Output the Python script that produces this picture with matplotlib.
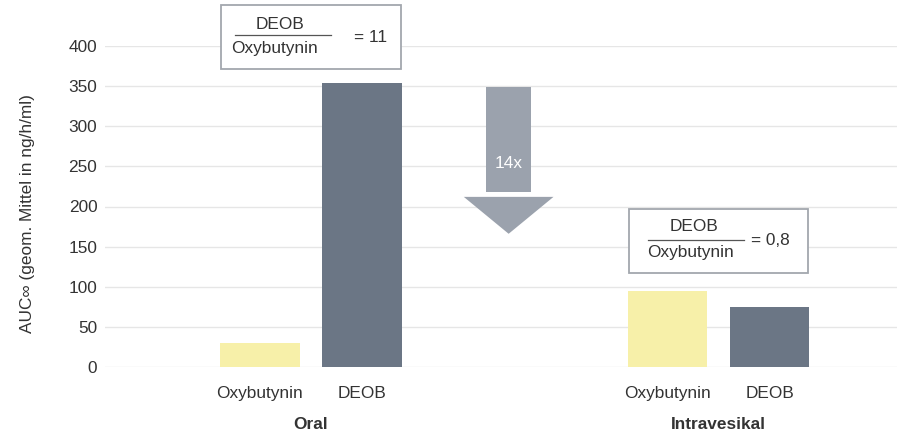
import numpy as np
import matplotlib.pyplot as plt
from matplotlib.patches import Rectangle, Polygon

plt.rcParams['font.family'] = ['Liberation Sans', 'DejaVu Sans']

# dati
gruppi = ['Oral', 'Intravesikal']
sostanze = ['Oxybutynin', 'DEOB', 'Oxybutynin', 'DEOB']
auc = [30, 354, 95, 75]
rapporti = ['= 11', '= 0,8']
riduzione = '14x'

pos = [0, 1, 4, 5]
colori = ['#f7f0a9', '#6b7685', '#f7f0a9', '#6b7685']
fs = 12.4

fig = plt.figure(figsize=(8.99, 4.37), dpi=100)
ax = fig.add_axes([105/899, 70/437, 792/899, 321/437])

ax.bar(pos, auc, width=0.78, color=colori, zorder=2)

ax.set_ylim(0, 400)
ax.set_xlim(-1.52, 6.25)
ax.set_yticks(np.arange(0, 401, 50))
ax.grid(axis='y', color='#e6e6e6', lw=1, zorder=0)
for s in ax.spines.values():
    s.set_visible(False)
ax.tick_params(axis='y', length=0, pad=5.5, labelsize=fs, labelcolor='#333333')
ax.set_xticks(pos)
ax.set_xticklabels(sostanze)
ax.tick_params(axis='x', length=0, pad=14, labelsize=fs, labelcolor='#333333')
ax.set_ylabel('AUC∞ (geom. Mittel in ng/h/ml)', fontsize=fs, color='#333333')
ax.yaxis.set_label_coords(-0.088, 0.477)

# etichette dei gruppi
for g, x in zip(gruppi, [0.5, 4.5]):
    ax.text(x, -72, g, ha='center', va='center', fontsize=fs, fontweight='bold',
            color='#333333', clip_on=False)

# riquadri con il rapporto DEOB/Oxybutynin
box = [(-0.38, 371, 1.76, 80), (3.62, 117, 1.76, 80)]
testo = [(0.196, 427, -0.245, 0.70, 413.7, 0.147, 397.5, 1.088, 411),
         (4.255, 174.5, 3.81, 4.75, 158, 4.225, 143, 5.01, 158)]
for (bx, by, bw, bh), t, r in zip(box, testo, rapporti):
    ax.add_patch(Rectangle((bx, by), bw, bh, fill=True, facecolor='white',
                           edgecolor='#a3a7ae', lw=1.3, clip_on=False, zorder=3))
    ax.text(t[0], t[1], 'DEOB', ha='center', va='center', fontsize=fs, color='#333333', zorder=4)
    ax.plot([t[2], t[3]], [t[4], t[4]], color='#555555', lw=0.9, clip_on=False, zorder=4)
    ax.text(t[5], t[6], 'Oxybutynin', ha='center', va='center', fontsize=fs, color='#333333', zorder=4)
    ax.text(t[7], t[8], r, ha='center', va='center', fontsize=fs, color='#333333', zorder=4)

# freccia 14x
grigio = '#9ba2ad'
ax.add_patch(Rectangle((2.216, 218), 0.441, 131, color=grigio, lw=0, zorder=3))
ax.add_patch(Polygon([[2.0, 212], [2.88, 212], [2.44, 166]], closed=True,
                     color=grigio, lw=0, zorder=3))
ax.text(2.44, 254, riduzione, ha='center', va='center', fontsize=fs, color='white', zorder=4)

fig.savefig('out.png', dpi=100)
